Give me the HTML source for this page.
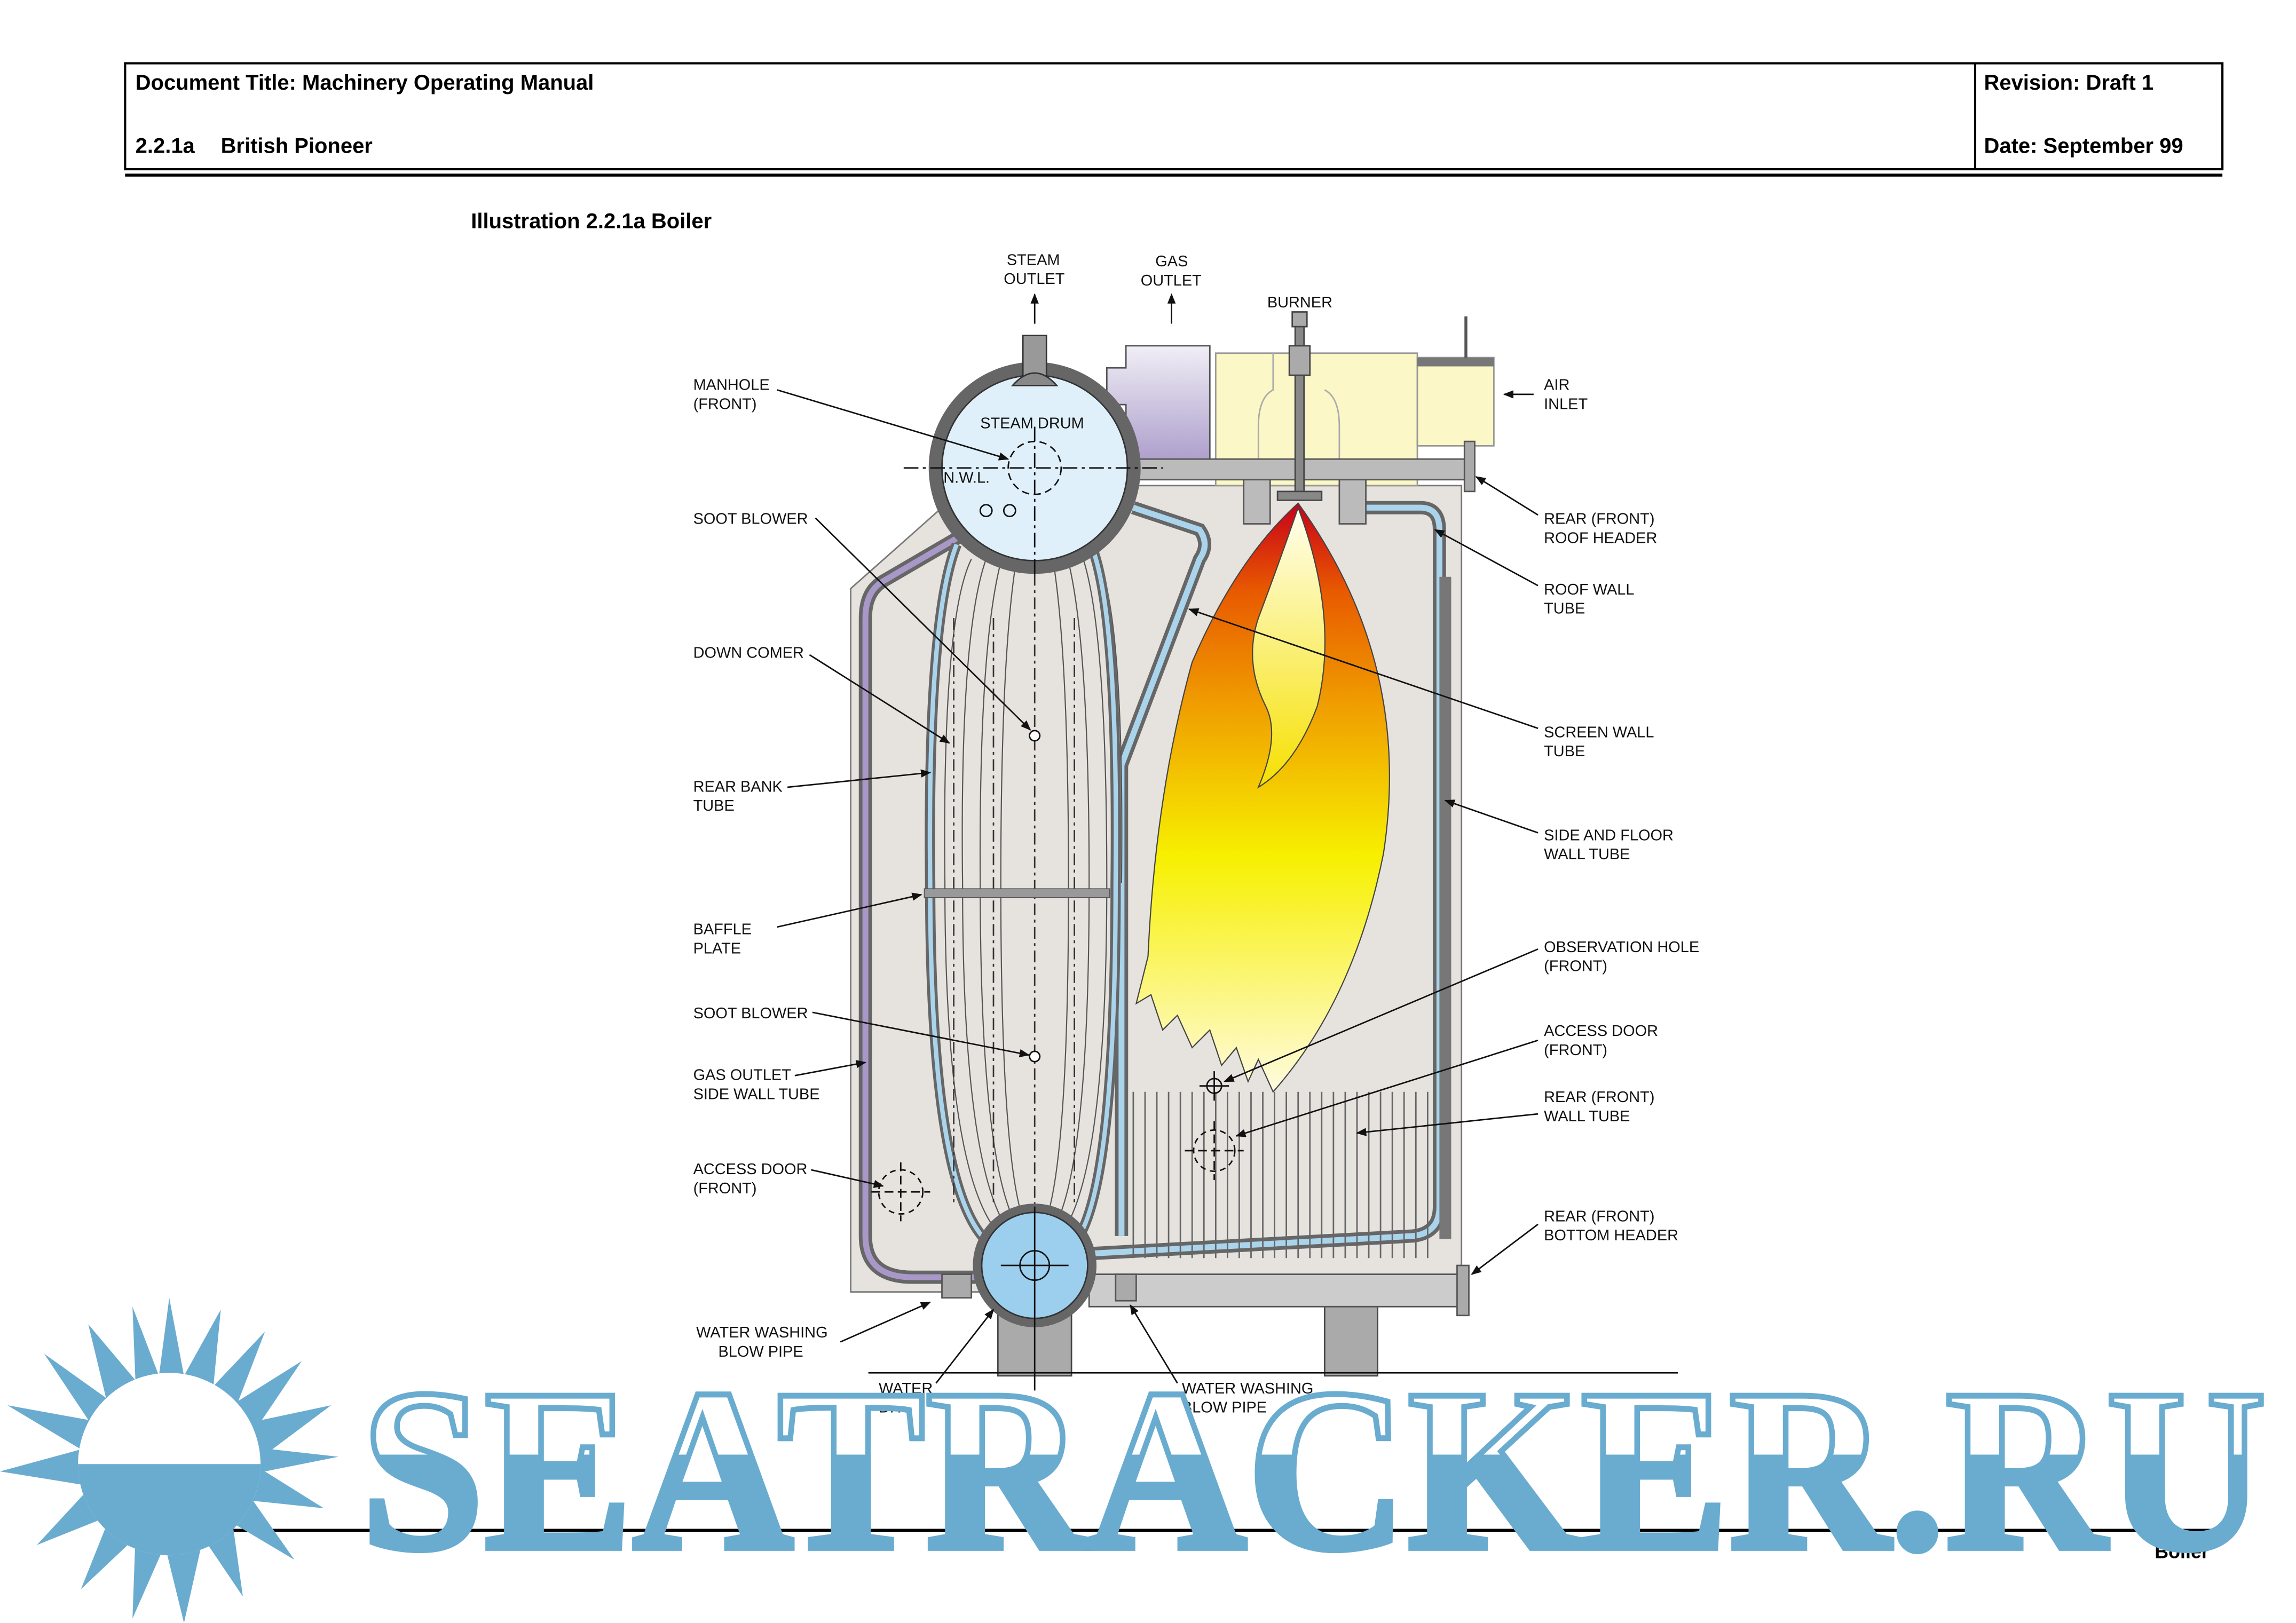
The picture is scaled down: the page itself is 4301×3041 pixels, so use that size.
<!DOCTYPE html>
<html><head><meta charset="utf-8">
<style>
html,body{margin:0;padding:0;background:#fff;}
svg{display:block;}
.lb{font-size:10.5px;fill:#111;font-family:"Liberation Sans",sans-serif;}
.ln{stroke:#111;stroke-width:1;fill:none;}
.hd{font-family:"Liberation Sans",sans-serif;}
</style></head>
<body>
<svg width="4301" height="3041" viewBox="0 0 1560 1103" xmlns="http://www.w3.org/2000/svg">
<defs>
<marker id="ar" viewBox="0 0 10 10" refX="9" refY="5" markerWidth="7" markerHeight="7" orient="auto-start-reverse"><path d="M0,1 L10,5 L0,9z" fill="#111"/></marker>
<linearGradient id="fl" x1="0" y1="0" x2="0" y2="1">
<stop offset="0" stop-color="#c8001a"/><stop offset="0.15" stop-color="#e85a00"/><stop offset="0.35" stop-color="#f0a000"/><stop offset="0.6" stop-color="#f7f000"/><stop offset="1" stop-color="#fffbe0"/></linearGradient>
<linearGradient id="fi" x1="0" y1="0" x2="0" y2="1"><stop offset="0" stop-color="#fffff0"/><stop offset="1" stop-color="#f6e000"/></linearGradient>
<linearGradient id="wm" x1="0" y1="930" x2="0" y2="1060" gradientUnits="userSpaceOnUse">
<stop offset="0" stop-color="#ffffff"/><stop offset="0.45" stop-color="#ffffff"/><stop offset="0.45" stop-color="#6aaccf"/><stop offset="1" stop-color="#6aaccf"/></linearGradient>
<linearGradient id="gd" x1="0" y1="0" x2="0" y2="1"><stop offset="0" stop-color="#f0eef6"/><stop offset="1" stop-color="#a898c8"/></linearGradient>
</defs>

<!-- header -->
<rect x="85" y="43" width="1425" height="72" fill="none" stroke="#000" stroke-width="1.5"/>
<line x1="1342" y1="43" x2="1342" y2="115" stroke="#000" stroke-width="1.5"/>
<line x1="85" y1="119" x2="1510" y2="119" stroke="#000" stroke-width="2"/>
<g class="hd" font-size="14.5" font-weight="bold">
<text x="92" y="61">Document Title: Machinery Operating Manual</text>
<text x="92" y="104">2.2.1a</text><text x="150" y="104">British Pioneer</text>
<text x="1348" y="61">Revision: Draft 1</text>
<text x="1348" y="104">Date: September 99</text>
<text x="320" y="155">Illustration 2.2.1a Boiler</text>
</g>

<!-- casing -->
<path d="M578,400 L640,345 L640,330 L993,330 L993,878 L578,878 Z" fill="#e6e2de" stroke="#777" stroke-width="1"/>
<path d="M660,360 L600,395 Q588,402 588,420 L588,840 Q588,868 620,868 L665,868" fill="none" stroke="#666" stroke-width="9"/>
<path d="M660,360 L600,395 Q588,402 588,420 L588,840 Q588,868 620,868 L665,868" fill="none" stroke="#a898c8" stroke-width="4"/>
<path d="M910,345 L965,345 Q978,345 978,360 L978,820 Q978,838 960,840 L740,852" fill="none" stroke="#666" stroke-width="9"/>
<path d="M910,345 L965,345 Q978,345 978,360 L978,820 Q978,838 960,840 L740,852" fill="none" stroke="#aad4ec" stroke-width="4"/>
<rect x="978" y="392" width="8" height="450" fill="#777"/>
<path d="M770,345 L815,360 Q822,370 815,380 L762,520 L762,840" fill="none" stroke="#666" stroke-width="9"/>
<path d="M770,345 L815,360 Q822,370 815,380 L762,520 L762,840" fill="none" stroke="#aad4ec" stroke-width="4"/>
<g stroke="#666" stroke-width="1">
<line x1="770" y1="742" x2="770" y2="855"/><line x1="778" y1="742" x2="778" y2="855"/><line x1="786" y1="742" x2="786" y2="855"/><line x1="794" y1="742" x2="794" y2="855"/><line x1="802" y1="742" x2="802" y2="855"/><line x1="810" y1="742" x2="810" y2="855"/><line x1="818" y1="742" x2="818" y2="855"/><line x1="826" y1="742" x2="826" y2="855"/><line x1="834" y1="742" x2="834" y2="855"/><line x1="842" y1="742" x2="842" y2="855"/><line x1="850" y1="742" x2="850" y2="855"/><line x1="858" y1="742" x2="858" y2="855"/><line x1="866" y1="742" x2="866" y2="855"/><line x1="874" y1="742" x2="874" y2="855"/><line x1="882" y1="742" x2="882" y2="855"/><line x1="890" y1="742" x2="890" y2="855"/><line x1="898" y1="742" x2="898" y2="855"/><line x1="906" y1="742" x2="906" y2="855"/><line x1="914" y1="742" x2="914" y2="855"/><line x1="922" y1="742" x2="922" y2="855"/><line x1="930" y1="742" x2="930" y2="855"/><line x1="938" y1="742" x2="938" y2="855"/><line x1="946" y1="742" x2="946" y2="855"/><line x1="954" y1="742" x2="954" y2="855"/><line x1="962" y1="742" x2="962" y2="855"/><line x1="970" y1="742" x2="970" y2="855"/>
</g>
<g stroke="#555" stroke-width="0.8" fill="none">
<path d="M660,380 Q640,420 642,600 Q642,800 680,840"/><path d="M670,380 Q652,430 654,600 Q654,800 688,840"/>
<path d="M680,382 Q665,440 666,600 Q666,800 694,838"/><path d="M690,384 Q680,450 680,600 Q680,800 698,836"/>
<path d="M716,384 Q726,450 726,600 Q726,800 708,836"/><path d="M726,382 Q740,440 740,600 Q740,800 714,838"/>
<path d="M736,380 Q752,430 752,600 Q752,800 720,840"/><path d="M746,380 Q764,420 762,600"/>
</g>
<path d="M650,370 Q630,420 632,600 Q632,810 672,845" fill="none" stroke="#666" stroke-width="7"/>
<path d="M650,370 Q630,420 632,600 Q632,810 672,845" fill="none" stroke="#aad4ec" stroke-width="3"/>
<path d="M742,372 Q760,420 758,600 Q758,810 730,845" fill="none" stroke="#666" stroke-width="7"/>
<path d="M742,372 Q760,420 758,600 Q758,810 730,845" fill="none" stroke="#aad4ec" stroke-width="3"/>
<line x1="703" y1="390" x2="703" y2="820" stroke="#333" stroke-dasharray="8,3,2,3"/>
<line x1="648" y1="420" x2="648" y2="820" stroke="#333" stroke-dasharray="8,3,2,3"/>
<line x1="675" y1="420" x2="675" y2="820" stroke="#333" stroke-dasharray="8,3,2,3"/>
<line x1="730" y1="420" x2="730" y2="820" stroke="#333" stroke-dasharray="8,3,2,3"/>
<rect x="628" y="604" width="126" height="6" fill="#999" stroke="#555" stroke-width="0.6"/>
<circle cx="703" cy="500" r="3.5" fill="#fff" stroke="#111"/>
<circle cx="703" cy="718" r="3.5" fill="#fff" stroke="#111"/>

<path d="M765,235 L822,235 L822,320 L765,320 L765,275 L752,275 L752,250 L765,250 Z" fill="url(#gd)" stroke="#555"/>
<rect x="826" y="240" width="137" height="90" fill="#fbf7c6" stroke="#999"/>
<rect x="963" y="243" width="52" height="60" fill="#fbf7c6" stroke="#999"/>
<rect x="963" y="243" width="52" height="6" fill="#777"/>
<line x1="996" y1="215" x2="996" y2="243" stroke="#555" stroke-width="2"/>
<path d="M855,330 L855,290 Q855,270 865,265 L865,240" fill="none" stroke="#aaa"/>
<path d="M910,330 L910,290 Q910,270 900,265" fill="none" stroke="#aaa"/>
<rect x="845" y="318" width="18" height="38" fill="#bbb" stroke="#555"/>
<rect x="910" y="318" width="18" height="38" fill="#bbb" stroke="#555"/>
<rect x="765" y="312" width="235" height="14" fill="#bbb" stroke="#555"/>
<rect x="995" y="300" width="7" height="34" fill="#aaa" stroke="#555"/>
<rect x="880" y="215" width="6" height="125" fill="#888" stroke="#444"/>
<rect x="876" y="235" width="14" height="20" fill="#aaa" stroke="#444"/>
<rect x="878" y="212" width="10" height="10" fill="#aaa" stroke="#444"/>
<rect x="868" y="334" width="30" height="6" fill="#888" stroke="#444"/>
<path d="M882,342 Q960,450 940,580 Q920,680 865,742 L855,720 L848,735 L840,712 L830,724 L822,700 L810,712 L800,690 L790,700 L782,676 L772,682 L780,650 Q785,540 810,450 Q840,380 882,342 Z" fill="url(#fl)" stroke="#444" stroke-width="0.8"/>
<path d="M882,345 Q910,420 895,480 Q880,520 855,535 Q870,500 860,480 Q845,450 855,420 Q870,380 882,345 Z" fill="url(#fi)" stroke="#444" stroke-width="0.8"/>
<circle cx="825" cy="738" r="5" fill="none" stroke="#111"/><line x1="815" y1="738" x2="835" y2="738" stroke="#111"/><line x1="825" y1="728" x2="825" y2="748" stroke="#111"/>
<circle cx="825" cy="782" r="14" fill="none" stroke="#111" stroke-dasharray="4,3"/><line x1="805" y1="782" x2="845" y2="782" stroke="#111" stroke-dasharray="6,3"/><line x1="825" y1="762" x2="825" y2="802" stroke="#111" stroke-dasharray="6,3"/>
<circle cx="612" cy="810" r="15" fill="none" stroke="#111" stroke-dasharray="4,3"/><line x1="592" y1="810" x2="632" y2="810" stroke="#111" stroke-dasharray="6,3"/><line x1="612" y1="790" x2="612" y2="830" stroke="#111" stroke-dasharray="6,3"/>

<circle cx="703" cy="318" r="72" fill="#666"/>
<circle cx="703" cy="318" r="63" fill="#e0f0fa" stroke="#333"/>
<rect x="695" y="228" width="16" height="30" fill="#999" stroke="#333"/>
<path d="M688,262 Q703,245 718,262 Z" fill="#888" stroke="#333"/>
<circle cx="703" cy="318" r="18" fill="none" stroke="#111" stroke-dasharray="5,3"/>
<line x1="614" y1="318" x2="790" y2="318" stroke="#111" stroke-dasharray="10,3,2,3"/>
<line x1="703" y1="290" x2="703" y2="390" stroke="#111" stroke-dasharray="10,3,2,3"/>
<circle cx="670" cy="347" r="4" fill="none" stroke="#111"/><circle cx="686" cy="347" r="4" fill="none" stroke="#111"/>
<text class="lb" x="666" y="291">STEAM DRUM</text>
<text class="lb" x="641" y="328" font-size="10">N.W.L.</text>
<rect x="678" y="885" width="50" height="50" fill="#aaa" stroke="#444"/>
<rect x="900" y="885" width="36" height="50" fill="#aaa" stroke="#444"/>
<rect x="740" y="866" width="255" height="22" fill="#ccc" stroke="#555"/>
<rect x="990" y="860" width="8" height="34" fill="#aaa" stroke="#555"/>
<rect x="640" y="866" width="20" height="16" fill="#aaa" stroke="#555"/>
<rect x="758" y="866" width="14" height="18" fill="#aaa" stroke="#555"/>
<circle cx="703" cy="860" r="42" fill="#666"/>
<circle cx="703" cy="860" r="36" fill="#9ccfee" stroke="#333"/>
<circle cx="703" cy="860" r="10" fill="none" stroke="#111"/>
<line x1="680" y1="860" x2="726" y2="860" stroke="#111"/><line x1="703" y1="820" x2="703" y2="945" stroke="#111"/>
<line x1="590" y1="933" x2="1140" y2="933" stroke="#111"/>

<line x1="703" y1="220" x2="703" y2="200" class="ln" stroke-width="2" marker-end="url(#ar)"/>
<line x1="796" y1="220" x2="796" y2="200" class="ln" stroke-width="2" marker-end="url(#ar)"/>
<line x1="1042" y1="268" x2="1022" y2="268" class="ln" stroke-width="2" marker-end="url(#ar)"/>
<text class="lb" x="684" y="180">STEAM</text><text class="lb" x="682" y="193">OUTLET</text>
<text class="lb" x="785" y="181">GAS</text><text class="lb" x="775" y="194">OUTLET</text>
<text class="lb" x="861" y="209">BURNER</text>

<g>
<text class="lb" x="471" y="265">MANHOLE</text><text class="lb" x="471" y="278">(FRONT)</text>
<text class="lb" x="471" y="356">SOOT BLOWER</text>
<text class="lb" x="471" y="447">DOWN COMER</text>
<text class="lb" x="471" y="538">REAR BANK</text><text class="lb" x="471" y="551">TUBE</text>
<text class="lb" x="471" y="635">BAFFLE</text><text class="lb" x="471" y="648">PLATE</text>
<text class="lb" x="471" y="692">SOOT BLOWER</text>
<text class="lb" x="471" y="734">GAS OUTLET</text><text class="lb" x="471" y="747">SIDE WALL TUBE</text>
<text class="lb" x="471" y="798">ACCESS DOOR</text><text class="lb" x="471" y="811">(FRONT)</text>
<text class="lb" x="473" y="909">WATER WASHING</text><text class="lb" x="488" y="922">BLOW PIPE</text>
<text class="lb" x="597" y="947">WATER</text><text class="lb" x="597" y="960">DRUM</text>
<text class="lb" x="803" y="947">WATER WASHING</text><text class="lb" x="803" y="960">BLOW PIPE</text>
</g>
<g class="ln">
<line x1="528" y1="265" x2="685" y2="312" marker-end="url(#ar)"/>
<line x1="554" y1="352" x2="700" y2="496" marker-end="url(#ar)"/>
<line x1="550" y1="445" x2="645" y2="505" marker-end="url(#ar)"/>
<line x1="535" y1="535" x2="632" y2="525" marker-end="url(#ar)"/>
<line x1="528" y1="630" x2="626" y2="608" marker-end="url(#ar)"/>
<line x1="552" y1="688" x2="699" y2="717" marker-end="url(#ar)"/>
<line x1="540" y1="731" x2="588" y2="722" marker-end="url(#ar)"/>
<line x1="551" y1="795" x2="600" y2="806" marker-end="url(#ar)"/>
<line x1="571" y1="912" x2="632" y2="885" marker-end="url(#ar)"/>
<line x1="636" y1="940" x2="675" y2="890" marker-end="url(#ar)"/>
<line x1="800" y1="940" x2="768" y2="887" marker-end="url(#ar)"/>
</g>
<g>
<text class="lb" x="1049" y="265">AIR</text><text class="lb" x="1049" y="278">INLET</text>
<text class="lb" x="1049" y="356">REAR (FRONT)</text><text class="lb" x="1049" y="369">ROOF HEADER</text>
<text class="lb" x="1049" y="404">ROOF WALL</text><text class="lb" x="1049" y="417">TUBE</text>
<text class="lb" x="1049" y="501">SCREEN WALL</text><text class="lb" x="1049" y="514">TUBE</text>
<text class="lb" x="1049" y="571">SIDE AND FLOOR</text><text class="lb" x="1049" y="584">WALL TUBE</text>
<text class="lb" x="1049" y="647">OBSERVATION HOLE</text><text class="lb" x="1049" y="660">(FRONT)</text>
<text class="lb" x="1049" y="704">ACCESS DOOR</text><text class="lb" x="1049" y="717">(FRONT)</text>
<text class="lb" x="1049" y="749">REAR (FRONT)</text><text class="lb" x="1049" y="762">WALL TUBE</text>
<text class="lb" x="1049" y="830">REAR (FRONT)</text><text class="lb" x="1049" y="843">BOTTOM HEADER</text>
</g>
<g class="ln">
<line x1="1045" y1="350" x2="1003" y2="324" marker-end="url(#ar)"/>
<line x1="1045" y1="398" x2="975" y2="360" marker-end="url(#ar)"/>
<line x1="1045" y1="495" x2="808" y2="414" marker-end="url(#ar)"/>
<line x1="1045" y1="566" x2="982" y2="544" marker-end="url(#ar)"/>
<line x1="1045" y1="645" x2="832" y2="735" marker-end="url(#ar)"/>
<line x1="1045" y1="707" x2="840" y2="772" marker-end="url(#ar)"/>
<line x1="1045" y1="757" x2="922" y2="770" marker-end="url(#ar)"/>
<line x1="1045" y1="832" x2="1000" y2="866" marker-end="url(#ar)"/>
</g>

<line x1="85" y1="1040" x2="1510" y2="1040" stroke="#000" stroke-width="2"/>
<text class="hd" x="1464" y="1059" font-size="13" font-weight="bold">Boiler</text>

<g fill="#6aaccf">
<polygon points="115,882 125,935 150,890 145,942 180,905 162,952 205,925 178,965 225,955 185,985 230,990 180,1000 220,1025 172,1020 200,1060 158,1035 165,1085 138,1045 125,1103 112,1050 90,1100 92,1045 55,1080 75,1030 25,1050 62,1010 0,1000 55,985 5,955 60,965 30,920 72,950 60,900 92,938 90,888 108,935"/>
</g>
<circle cx="115" cy="995" r="62" fill="#fff"/>
<path d="M53,995 A62,62 0 0 0 177,995 Z" fill="#6aaccf"/>
<text x="245" y="1052" style="font-family:'Liberation Serif',serif;font-weight:bold;font-size:158px" textLength="1295" lengthAdjust="spacingAndGlyphs" fill="url(#wm)" stroke="#6aaccf" stroke-width="4">SEATRACKER.RU</text>
</svg>
</body></html>
